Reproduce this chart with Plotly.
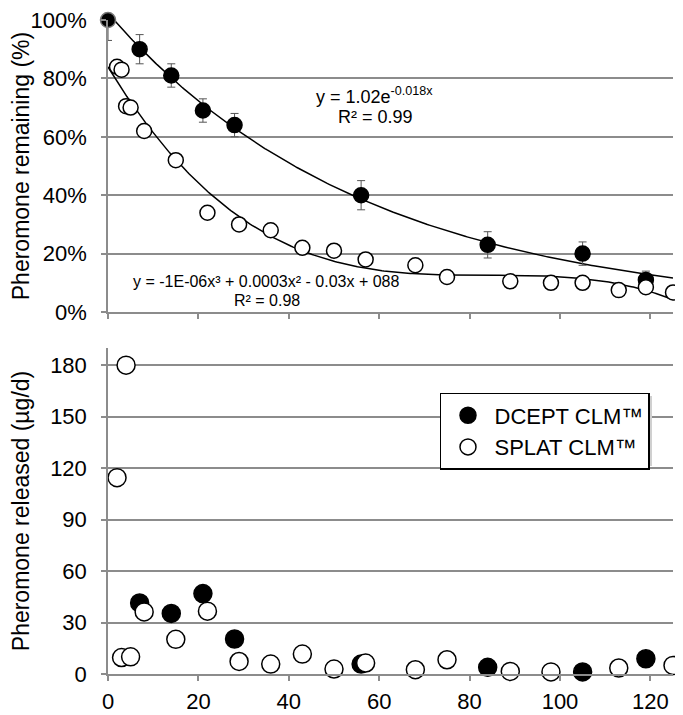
import numpy as np
import plotly.graph_objects as go

# ---------------- data ----------------
days_dcept = [0, 7, 14, 21, 28, 56, 84, 105, 119]
remaining_dcept = [100, 90, 81, 69, 64, 40, 23, 20, 11]
err_dcept_plus = [0, 5, 4, 4, 4, 5, 4.5, 4, 3]
err_dcept_minus = [7, 5, 4, 4, 4, 5, 4.5, 4, 3]

days_splat = [2, 3, 4, 5, 8, 15, 22, 29, 36, 43, 50, 57, 68, 75, 89, 98, 105, 113, 119, 125]
remaining_splat = [84, 83, 70.5, 70, 62, 52, 34, 30, 28, 22, 21, 18, 16, 12, 10.5, 10, 10, 7.5, 8.5, 6.7]

days_dcept_rel = [7, 14, 21, 28, 56, 84, 105, 119]
release_dcept = [41.4, 35.3, 46.9, 20.4, 5.8, 3.9, 1.2, 8.9]

days_splat_rel = [2, 3, 4, 5, 8, 15, 22, 29, 36, 43, 50, 57, 68, 75, 89, 98, 113, 125]
release_splat = [114.4, 9.6, 180, 10, 36.2, 20.2, 36.6, 7.3, 5.8, 11.6, 2.9, 6.4, 2.5, 8.3, 1.5, 1.2, 3.5, 5.0]

x_ticks = [0, 20, 40, 60, 80, 100, 120]
top_ticks = [0, 20, 40, 60, 80, 100]
top_tick_text = ["0%", "20%", "40%", "60%", "80%", "100%"]
bottom_ticks = [0, 30, 60, 90, 120, 150, 180]

exp_label = "y = 1.02e<sup>-0.018x</sup>"
exp_r2 = "R² = 0.99"
poly_label = "y = -1E-06x³ + 0.0003x² - 0.03x + 088"
poly_r2 = "R² = 0.98"

# ---------------- trendlines (fitted from the data, as in the original) ----------------
xd = np.array(days_dcept, float)
yd = np.array(remaining_dcept, float)
b, lna = np.polyfit(xd, np.log(yd), 1)
xs = np.linspace(0, 125, 300)
exp_fit = np.exp(lna) * np.exp(b * xs)

xsp = np.array(days_splat, float)
ysp = np.array(remaining_splat, float)
cub = np.polyfit(xsp, ysp, 3)
poly_fit = np.polyval(cub, xs)

FONT = "Liberation Sans, Arial, Helvetica, sans-serif"
GRID = "#8c8c8c"

W, H = 675, 707
ML, MR, MT, MB = 100, 10, 12, 41
PW = W - ML - MR
PH = H - MT - MB

fig = go.Figure()

# top panel
fig.add_trace(go.Scatter(x=xs, y=exp_fit, mode="lines", line=dict(color="black", width=1.5),
                         showlegend=False, hoverinfo="skip", xaxis="x", yaxis="y"))
fig.add_trace(go.Scatter(x=xs, y=poly_fit, mode="lines", line=dict(color="black", width=1.5),
                         showlegend=False, hoverinfo="skip", xaxis="x", yaxis="y"))
fig.add_trace(go.Scatter(
    x=days_dcept, y=remaining_dcept, mode="markers",
    marker=dict(size=15, color="black", line=dict(color=["#777"] + ["black"] * 8, width=1.5)),
    error_y=dict(type="data", array=err_dcept_plus, arrayminus=err_dcept_minus,
                 color="#555", thickness=1, width=4),
    showlegend=False, cliponaxis=False, xaxis="x", yaxis="y"))
fig.add_trace(go.Scatter(
    x=days_splat, y=remaining_splat, mode="markers",
    marker=dict(size=15, color="white", line=dict(color="black", width=1.5)),
    showlegend=False, cliponaxis=False, xaxis="x", yaxis="y"))

# bottom panel
fig.add_trace(go.Scatter(
    x=days_dcept_rel, y=release_dcept, mode="markers", name="DCEPT CLM™",
    marker=dict(size=18, color="black", line=dict(color="black", width=1.5)),
    cliponaxis=False, xaxis="x2", yaxis="y2"))
fig.add_trace(go.Scatter(
    x=days_splat_rel, y=release_splat, mode="markers", name="SPLAT CLM™",
    marker=dict(size=18, color="white", line=dict(color="black", width=1.5)),
    cliponaxis=False, xaxis="x2", yaxis="y2"))

axis_common = dict(showline=True, linecolor=GRID, linewidth=1.5, ticks="outside",
                   ticklen=5, tickcolor=GRID, tickwidth=1.5, zeroline=False,
                   automargin=False, ticklabeloverflow="allow",
                   tickfont=dict(family=FONT, size=22, color="black"))

leg_x = 0.5876
leg_y = 0.4297
leg_w = 209
leg_h = 70

fig.update_layout(
    width=W, height=H,
    margin=dict(l=ML, r=MR, t=MT, b=MB),
    paper_bgcolor="white", plot_bgcolor="white",
    font=dict(family=FONT, color="black"),
    xaxis=dict(domain=[0, 1], range=[0, 125], anchor="y", tickvals=x_ticks,
               showticklabels=False, showgrid=False, **axis_common),
    yaxis=dict(domain=[0.5535, 1], range=[0, 100], anchor="x", tickvals=top_ticks,
               ticktext=top_tick_text, ticklabelstandoff=10,
               showgrid=True, gridcolor=GRID, gridwidth=1.5,
               title=dict(text="Pheromone remaining (%)", font=dict(family=FONT, size=23), standoff=1),
               **axis_common),
    xaxis2=dict(domain=[0, 1], range=[0, 125], anchor="y2", tickvals=x_ticks,
                ticklabelstandoff=2, showgrid=False, **axis_common),
    yaxis2=dict(domain=[0, 0.4985], range=[0, 190], anchor="x2", tickvals=bottom_ticks,
                ticklabelstandoff=10, showgrid=True, gridcolor=GRID, gridwidth=1.5,
                title=dict(text="Pheromone released (µg/d)", font=dict(family=FONT, size=23), standoff=20),
                **axis_common),
    legend=dict(x=leg_x, y=leg_y, xanchor="left", yanchor="top",
                bgcolor="white", bordercolor="black", borderwidth=1.5,
                font=dict(family=FONT, size=22, color="black"),
                itemsizing="trace", itemwidth=43, tracegroupgap=0),
    shapes=[dict(type="rect", xref="paper", yref="paper",
                 x0=leg_x + 3 / PW, x1=leg_x + (leg_w + 3) / PW,
                 y0=leg_y - (leg_h + 3) / PH, y1=leg_y - 3 / PH,
                 fillcolor="#d0d0d0", line=dict(width=0), layer="above")],
    annotations=[
        dict(text=exp_label, x=58.9, y=74.3, xref="x", yref="y", showarrow=False,
             font=dict(family=FONT, size=18)),
        dict(text=exp_r2, x=59.2, y=66.8, xref="x", yref="y", showarrow=False,
             font=dict(family=FONT, size=18)),
        dict(text=poly_label, x=35.0, y=10.3, xref="x", yref="y", showarrow=False,
             font=dict(family=FONT, size=16)),
        dict(text=poly_r2, x=35.1, y=4.0, xref="x", yref="y", showarrow=False,
             font=dict(family=FONT, size=16)),
    ],
)

fig.write_html("out.html")
